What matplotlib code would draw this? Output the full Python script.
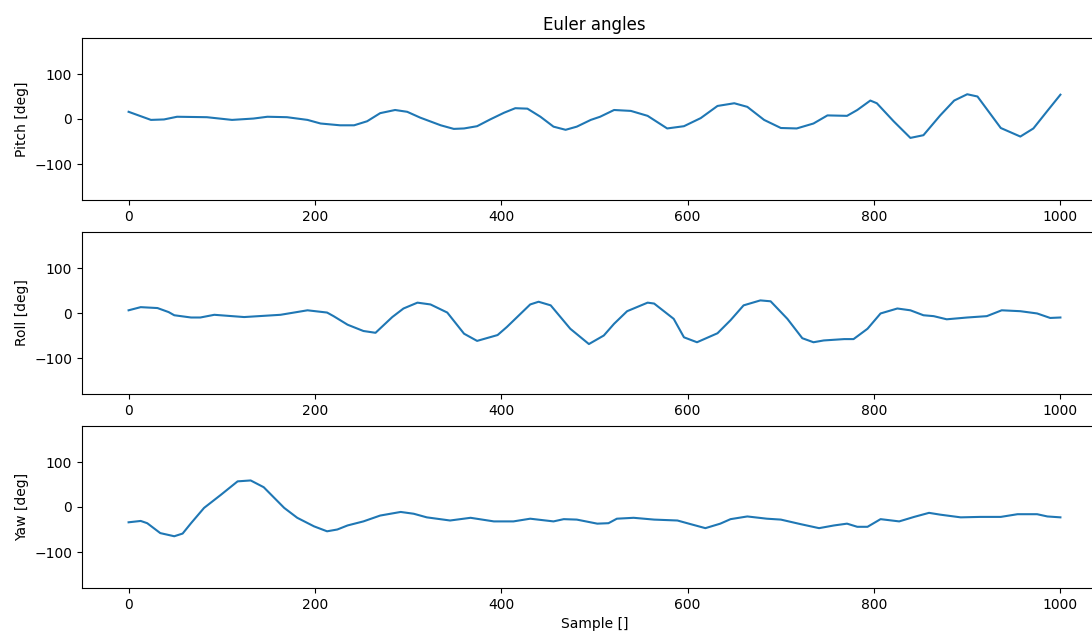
import matplotlib
matplotlib.use("Agg")
import matplotlib.pyplot as plt

# sample positions / values
pitch_x = [0, 24, 38, 52, 84, 111, 134, 149, 170, 192, 206, 227, 242, 256, 270, 286, 299, 313,
           335, 349, 360, 374, 388, 403, 415, 428, 442, 456, 469, 481, 496, 506, 521, 539, 557,
           578, 596, 614, 632, 650, 664, 682, 700, 717, 735, 750, 771, 782, 796, 803, 821, 839,
           853, 871, 886, 900, 911, 936, 957, 971, 986, 1000]
pitch = [16, -2, -1, 5, 4, -2, 1, 5, 4, -2, -10, -14, -14, -5, 13, 20, 16, 3,
         -14, -22, -21, -16, -1, 14, 24, 23, 5, -17, -24, -17, -2, 5, 20, 18, 7,
         -21, -16, 2, 29, 35, 27, -2, -20, -21, -10, 8, 7, 20, 41, 35, -5, -42,
         -36, 8, 41, 55, 50, -20, -39, -21, 18, 54]

roll_x = [0, 13, 31, 43, 49, 67, 77, 92, 124, 163, 192, 213, 220, 235, 252, 265, 283, 295,
          310, 324, 342, 360, 374, 396, 406, 417, 431, 440, 453, 474, 494, 510, 521, 535,
          557, 564, 585, 596, 610, 632, 646, 660, 678, 689, 707, 723, 735, 746, 768, 778,
          793, 807, 825, 839, 853, 864, 878, 900, 921, 937, 957, 975, 989, 1000]
roll = [6, 13, 11, 2, -5, -10, -10, -4, -9, -4, 6, 1, -7, -26, -40, -44, -9, 10,
        23, 19, 1, -46, -62, -49, -31, -9, 19, 25, 17, -35, -69, -50, -24, 4,
        23, 21, -13, -54, -65, -45, -16, 17, 28, 26, -13, -56, -65, -61, -58, -58,
        -35, -1, 10, 6, -5, -7, -14, -10, -7, 6, 4, -1, -11, -10]

yaw_x = [0, 13, 20, 34, 49, 58, 67, 81, 99, 117, 131, 145, 167, 181, 199, 213, 224, 235,
         252, 270, 292, 306, 320, 345, 367, 392, 413, 431, 456, 467, 481, 503, 515, 524,
         542, 564, 589, 603, 619, 635, 646, 664, 685, 700, 721, 741, 757, 771, 782, 793,
         807, 827, 843, 859, 871, 893, 914, 936, 954, 975, 986, 1000]
yaw = [-34, -31, -36, -58, -65, -59, -36, -2, 27, 57, 59, 44, -2, -24, -43, -54, -50, -41,
       -32, -19, -11, -15, -23, -30, -24, -32, -32, -26, -32, -27, -28, -37, -36, -26,
       -24, -28, -30, -38, -47, -37, -27, -21, -26, -28, -38, -47, -41, -37, -44, -44,
       -27, -32, -22, -13, -17, -23, -22, -22, -16, -16, -21, -23]

series = [(pitch_x, pitch, "Pitch [deg]"),
          (roll_x, roll, "Roll [deg]"),
          (yaw_x, yaw, "Yaw [deg]")]

fig = plt.figure(figsize=(10.92, 6.33), dpi=100)

# axes placed by hand; right edge runs past the figure like the reference crop
tops = [38, 232, 426]
h = 162
axes = []
for top in tops:
    ax = fig.add_axes([82 / 1092, 1 - (top + h) / 633, 1025 / 1092, h / 633])
    axes.append(ax)

for ax, (xs, ys, label) in zip(axes, series):
    ax.plot(xs, ys, color="tab:blue", linewidth=1.5)
    ax.set_xlim(-50, 1050)
    ax.set_ylim(-180, 180)
    ax.set_yticks([-100, 0, 100])
    ax.set_xticks([0, 200, 400, 600, 800, 1000])
    ax.set_ylabel(label)

axes[0].set_title("Euler angles")
axes[-1].set_xlabel("Sample []")

fig.savefig("out.png", dpi=100)
